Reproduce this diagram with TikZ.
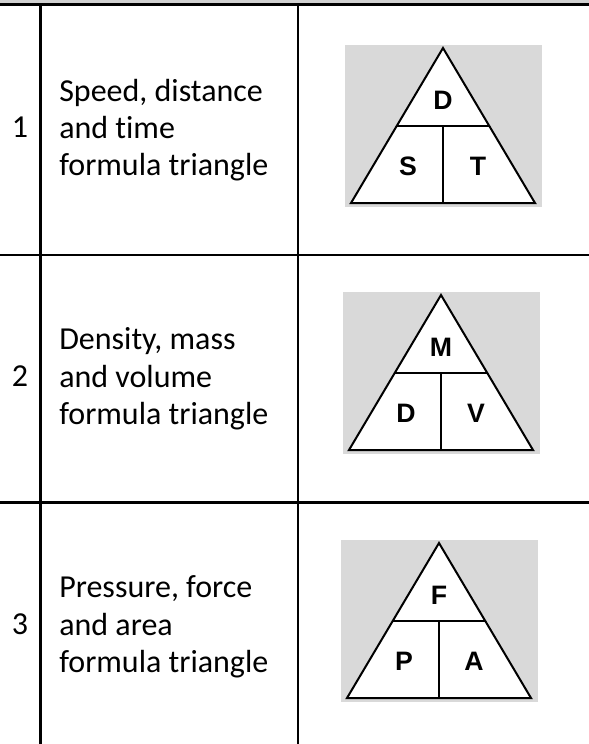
\documentclass[tikz,border=0pt]{standalone}
\usepackage{fontspec}
\setmainfont{Carlito}[Ligatures=NoCommon]
\newfontfamily\trifont{Liberation Sans}
\usepackage{xcolor}
\usepackage{tikz}
\usetikzlibrary{positioning, calc}
\definecolor{cellgray}{RGB}{217, 217, 217}
\definecolor{topgray}{RGB}{208, 208, 208}

\begin{document}
\begin{tikzpicture}[x=0.75pt, y=-0.75pt,
    gridline/.style={draw=black, line width=1.7pt},
    triline/.style={draw=black, line width=1.5pt, line join=miter},
    rowtext/.style={anchor=west, align=left, inner sep=0pt,
                    font=\fontsize{24}{28}\selectfont},
    rownum/.style={anchor=base, inner sep=0pt,
                   font=\fontsize{24}{28}\selectfont},
    trilabel/.style={inner sep=0pt, font=\trifont\bfseries\fontsize{20}{24}\selectfont}]
    \useasboundingbox (0,0) rectangle (589,744);
    \fill[topgray] (0,0) rectangle (589,3.5);

    % table grid
    \draw[gridline] (0,4.5) -- (589,4.5);
    \draw[gridline] (0,255) -- (589,255);
    \draw[gridline] (0,502.5) -- (589,502.5);
    \draw[gridline] (40.6,4.5) -- (40.6,744);
    \draw[gridline] (298,4.5) -- (298,744);

    % numbers and descriptions
    \node[rownum] (num1) at (20,137.5) {1};
    \node[rownum] (num2) at (20,386.5) {2};
    \node[rownum] (num3) at (20,634.5) {3};
    \node[rowtext] (desc1) at (59,130) {Speed, distance\\and time\\formula triangle};
    \node[rowtext] (desc2) at (59,379) {Density, mass\\and volume\\formula triangle};
    \node[rowtext] (desc3) at (59,627) {Pressure, force\\and area\\formula triangle};

    % formula triangles
    \foreach \i/\cx/\top/\ta/\la/\ra in {1/443/45/D/S/T, 2/441/292/M/D/V, 3/439/540/F/P/A} {
        \fill[cellgray] ({\cx-98},\top) rectangle ({\cx+99},{\top+162});
        \coordinate (apex\i) at (\cx,{\top+3});
        \coordinate (bl\i) at ({\cx-92},{\top+158});
        \coordinate (br\i) at ({\cx+92},{\top+158});
        \coordinate (bm\i) at (\cx,{\top+158});
        \coordinate (ml\i) at ({\cx-46},{\top+80.5});
        \coordinate (mr\i) at ({\cx+46},{\top+80.5});
        \coordinate (mm\i) at (\cx,{\top+80.5});
        \draw[triline, fill=white] (apex\i) -- (bl\i) -- (br\i) -- cycle;
        \draw[triline] (ml\i) -- (mr\i);
        \draw[triline] (mm\i) -- (bm\i);
        \node[trilabel] (top\i) at (\cx,{\top+55}) {\ta};
        \node[trilabel] (left\i) at ({\cx-35},{\top+121}) {\la};
        \node[trilabel] (right\i) at ({\cx+35},{\top+121}) {\ra};
    }
\end{tikzpicture}
\end{document}
